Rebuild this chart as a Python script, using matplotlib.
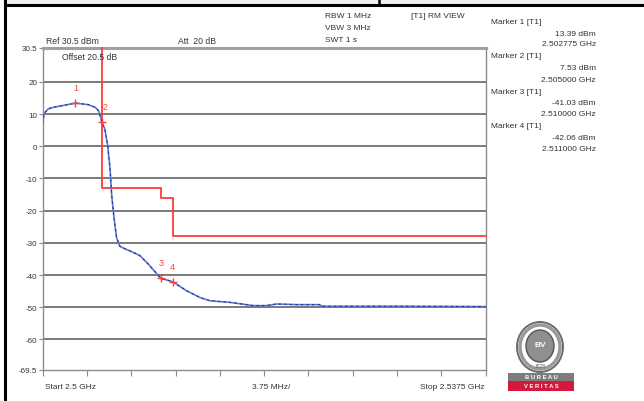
import matplotlib
matplotlib.use('Agg')
import matplotlib.pyplot as plt
from matplotlib.patches import Ellipse, Rectangle

plt.rcParams['font.family'] = ['Liberation Sans', 'DejaVu Sans']

# trace: offset from 2.5 GHz in MHz, level in dBm
trace_mhz = [0.0, 0.11, 0.47, 0.90, 1.74, 2.775, 3.86, 4.43, 4.71, 4.91,
             5.00, 5.25, 5.50, 5.70, 5.84, 6.04, 6.26, 6.54, 7.11, 7.39,
             8.24, 8.94, 10.0, 11.0, 12.19, 13.33, 14.18, 15.87, 17.83, 18.96,
             19.81, 21.5, 23.4, 23.75, 30.0, 37.5]
trace_level = [7.2, 10.1, 11.6, 12.1, 12.65, 13.39, 12.9, 12.1, 11.1, 9.0,
               7.53, 5.5, 0.3, -6.9, -15.1, -22.3, -28.5, -31.1, -32.1, -32.5,
               -34.0, -36.6, -41.03, -42.06, -44.9, -47.0, -48.0, -48.5, -49.5, -49.5,
               -49.0, -49.2, -49.2, -49.7, -49.7, -49.8]
trace_freq = [2.5 + m / 1000 for m in trace_mhz]

# limit line
limit_freq = [2.505, 2.505, 2.510, 2.510, 2.511, 2.511, 2.5375]
limit_level = [30.5, -13, -13, -16, -16, -28, -28]

# markers
marker_names = ['1', '2', '3', '4']
marker_freq = [2.502775, 2.505000, 2.510000, 2.511000]
marker_level = [13.39, 7.53, -41.03, -42.06]
marker_dx = [0, 2.5, 0, 0]

y_ticks = [30.5, 20, 10, 0, -10, -20, -30, -40, -50, -60, -69.5]
y_labels = ['30.5', '20', '10', '0', '-10', '-20', '-30', '-40', '-50', '-60', '-69.5']

W, H = 644, 402
fig = plt.figure(figsize=(W / 100, H / 100), dpi=100)


def fx(x):
    return x / W


def fy(y):
    return 1 - y / H


txt = '#333333'
grey = '#8c8c8c'

ax = fig.add_axes([fx(42.7), fy(371), fx(485.5) - fx(42.7), fy(49) - fy(371)])
ax.set_xlim(2.5, 2.5375)
ax.set_ylim(-69.5, 30.5)

for v in [20, 10, 0, -10, -20, -30, -40, -50, -60]:
    ax.axhline(v, color='#7a7a7a', linewidth=1.4, zorder=1)

ax.plot(limit_freq, limit_level, color='#ff3b3b', linewidth=1.3, zorder=3, clip_on=False)
ax.plot(trace_freq, trace_level, color='#5a78d8', linewidth=1.2, zorder=4)
ax.plot(trace_freq, trace_level, color='#1f3590', linewidth=0.8, linestyle=(0, (2, 3)), zorder=5)

ax.plot(marker_freq, marker_level, linestyle='none', marker='+', markersize=6,
        markeredgewidth=1.0, color='#ff3b3b', zorder=6)
for name, f, lv, dx in zip(marker_names, marker_freq, marker_level, marker_dx):
    ax.annotate(name, (f, lv), xytext=(dx, 8), textcoords='offset points',
                ha='center', va='bottom', fontsize=6.5, color='#ff4040')

for s in ['left', 'right', 'bottom']:
    ax.spines[s].set_color(grey)
    ax.spines[s].set_linewidth(1.0)
ax.spines['top'].set_color('#a0a0a0')
ax.spines['top'].set_linewidth(2.2)

ax.set_yticks(y_ticks)
ax.set_yticklabels(y_labels)
ax.set_xticks([2.5 + 0.00375 * i for i in range(11)])
ax.set_xticklabels([])
ax.tick_params(axis='y', direction='out', length=3, width=0.8, color=grey,
               labelsize=5.8, labelcolor=txt, pad=1)
ax.tick_params(axis='x', direction='out', length=4, width=0.8, color=grey)

# header and footer text
fig.text(fx(46), fy(42), 'Ref 30.5 dBm', fontsize=6.2, color=txt, va='center')
fig.text(fx(178), fy(42), 'Att  20 dB', fontsize=6.2, color=txt, va='center')
fig.text(fx(62), fy(58), 'Offset 20.5 dB', fontsize=6.2, color=txt, va='center')
fig.text(fx(325), fy(17), 'RBW 1 MHz', fontsize=6.0, color=txt, va='center')
fig.text(fx(325), fy(29), 'VBW 3 MHz', fontsize=6.0, color=txt, va='center')
fig.text(fx(325), fy(41), 'SWT 1 s', fontsize=6.0, color=txt, va='center')
fig.text(fx(411), fy(17), '[T1] RM VIEW', fontsize=6.0, color=txt, va='center')

fig.text(fx(45), fy(388), 'Start 2.5 GHz', fontsize=6.0, color=txt, va='center')
fig.text(fx(271), fy(388), '3.75 MHz/', fontsize=6.0, color=txt, va='center', ha='center')
fig.text(fx(485), fy(388), 'Stop 2.5375 GHz', fontsize=6.0, color=txt, va='center', ha='right')

# marker table
for i, (f, lv) in enumerate(zip(marker_freq, marker_level)):
    y0 = 22 + i * 35
    fig.text(fx(491), fy(y0), 'Marker %d [T1]' % (i + 1), fontsize=6.0, color=txt, va='center')
    fig.text(fx(596), fy(y0 + 12), '%.2f dBm' % lv, fontsize=6.0, color=txt, va='center', ha='right')
    fig.text(fx(596), fy(y0 + 23), '%.6f GHz' % f, fontsize=6.0, color=txt, va='center', ha='right')

# page border
fig.patches.append(Rectangle((fx(5), fy(6)), 1, 1, transform=fig.transFigure,
                             facecolor='#efefef', edgecolor='none', zorder=0))
fig.add_artist(plt.Line2D([fx(5), fx(5)], [0, 1], color='black', linewidth=2.2))
fig.add_artist(plt.Line2D([fx(5), 1], [fy(6), fy(6)], color='black', linewidth=2.2))
fig.add_artist(plt.Line2D([fx(379), fx(379)], [fy(6), 1], color='black', linewidth=1.8))

# logo
lg = fig.add_axes([fx(505), fy(394), fx(577) - fx(505), fy(322) - fy(394)])
lg.set_xlim(0, 72)
lg.set_ylim(0, 72)
lg.axis('off')
lg.add_patch(Ellipse((35, 46), 46, 50, facecolor='white', edgecolor='#6a6a6a', linewidth=1.4))
lg.add_patch(Ellipse((35, 46), 40, 44, facecolor='none', edgecolor='#9a9a9a', linewidth=2.5))
lg.add_patch(Ellipse((35, 47), 28, 32, facecolor='#8f8f8f', edgecolor='#555555', linewidth=1.0))
lg.text(35, 48, 'BV', ha='center', va='center', fontsize=6, color='white', fontweight='bold')
lg.text(35, 27, '1828', ha='center', va='center', fontsize=3.5, color='#555555')
lg.add_patch(Rectangle((3, 12.3), 66, 7.7, facecolor='#7d7d7d', edgecolor='none'))
lg.add_patch(Rectangle((3, 2.3), 66, 10, facecolor='#d6183c', edgecolor='none'))
lg.text(36, 16.2, 'B U R E A U', ha='center', va='center', fontsize=4.2, color='white', fontweight='bold')
lg.text(36, 7.3, 'V E R I T A S', ha='center', va='center', fontsize=4.2, color='white', fontweight='bold')

fig.savefig('out.png', dpi=100, facecolor='white')
